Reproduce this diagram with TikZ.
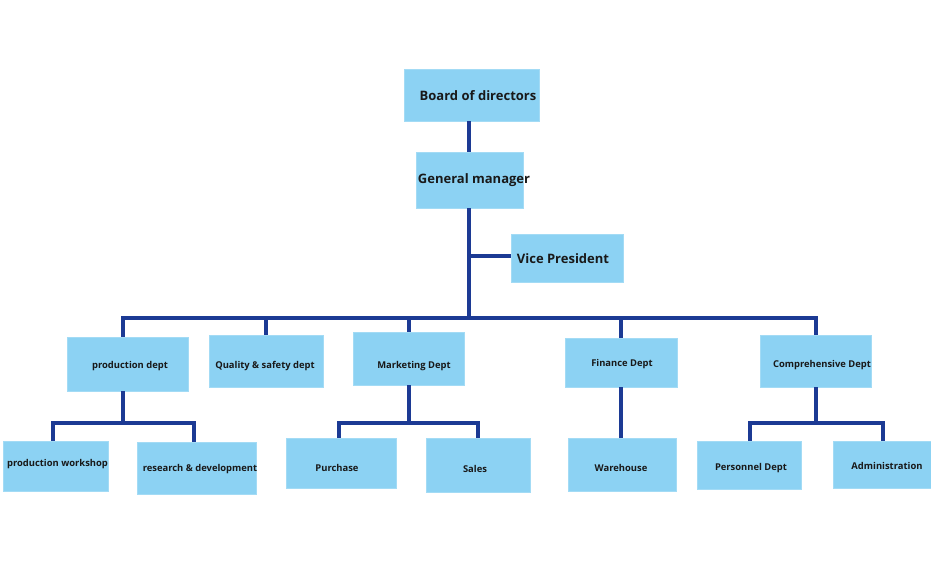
\documentclass[tikz,border=0pt]{standalone}
\usepackage{fontspec}
\setmainfont{Open Sans}
\definecolor{boxfill}{RGB}{140,210,243}
\definecolor{linec}{RGB}{28,58,148}
\begin{document}
\begin{tikzpicture}[x=1pt,y=-1pt,
  box/.style={fill=boxfill,draw=boxfill!80!white,line width=0.6pt,inner sep=0pt},
  big/.style={font=\fontsize{13}{15}\selectfont\bfseries,text=black!90},
  small/.style={font=\fontsize{9.4}{11}\selectfont\bfseries,text=black!90},
  conn/.style={draw=linec,line width=3.2pt}]
\useasboundingbox (0,0) rectangle (931,567);
% boxes
\node[box,minimum width=135pt,minimum height=52pt] (bod) at (471.5,95) {};
\node[box,minimum width=107pt,minimum height=56pt] (gm) at (469.5,180) {};
\node[box,minimum width=112pt,minimum height=48pt] (vp) at (567,258) {};
\node[box,minimum width=121pt,minimum height=54pt] (prod) at (127.5,364) {};
\node[box,minimum width=114pt,minimum height=52pt] (qual) at (266,361) {};
\node[box,minimum width=111pt,minimum height=53pt] (mkt) at (408.5,358.5) {};
\node[box,minimum width=112pt,minimum height=49pt] (fin) at (621,362.5) {};
\node[box,minimum width=111pt,minimum height=52pt] (comp) at (815.5,361) {};
\node[box,minimum width=105pt,minimum height=50pt] (pw) at (55.5,466) {};
\node[box,minimum width=119pt,minimum height=52pt] (rd) at (196.5,468) {};
\node[box,minimum width=110pt,minimum height=50pt] (pur) at (341,463) {};
\node[box,minimum width=104pt,minimum height=54pt] (sal) at (478,465) {};
\node[box,minimum width=108pt,minimum height=53pt] (wh) at (622,464.5) {};
\node[box,minimum width=104pt,minimum height=48pt] (per) at (749,465) {};
\node[box,minimum width=98pt,minimum height=47pt] (adm) at (882,464.5) {};
% labels
\node[big] (tbod) at (478,96) {Board of directors};
\node[big] (tgm) at (474,180) {General manager};
\node[big] (tvp) at (563,259) {Vice President};
\node[small] (tprod) at (130,366) {production dept};
\node[small] (tqual) at (265,366) {Quality \& safety dept};
\node[small] (tmkt) at (414,366) {Marketing Dept};
\node[small] (tfin) at (622,364) {Finance Dept};
\node[small] (tcomp) at (822,365) {Comprehensive Dept};
\node[small] (tpw) at (57.5,464) {production workshop};
\node[small] (trd) at (200,469) {research \& development};
\node[small] (tpur) at (337,468) {Purchase};
\node[small] (tsal) at (475,469) {Sales};
\node[small] (twh) at (621,468) {Warehouse};
\node[small] (tper) at (751,468) {Personnel Dept};
\node[small] (tadm) at (887,466) {Administration};
% junctions
\coordinate (bus) at (469,318);
\coordinate (vpj) at (469,256);
\coordinate (pj) at (123,423);
\coordinate (mj) at (409,423);
\coordinate (cj) at (816,423);
% connectors
\draw[conn] (bus |- bod.south) -- (bus |- gm.north);
\draw[conn] (bus |- gm.south) -- (bus);
\draw[conn] (vpj) -- (vpj -| vp.west);
\draw[conn,line cap=rect] (123,318) -- (816,318);
\draw[conn] (123,318) -- (123,318 |- prod.north);
\draw[conn] (266,318) -- (266,318 |- qual.north);
\draw[conn] (409,318) -- (409,318 |- mkt.north);
\draw[conn] (621,318) -- (621,318 |- fin.north);
\draw[conn] (816,318) -- (816,318 |- comp.north);
% production subtree
\draw[conn] (pj |- prod.south) -- (pj);
\draw[conn] (53,0 |- pw.north) -- (53,423) -- (194,423) -- (194,0 |- rd.north);
% marketing subtree
\draw[conn] (mj |- mkt.south) -- (mj);
\draw[conn] (339,0 |- pur.north) -- (339,423) -- (478,423) -- (478,0 |- sal.north);
% finance
\draw[conn] (621,0 |- fin.south) -- (621,0 |- wh.north);
% comprehensive
\draw[conn] (cj |- comp.south) -- (cj);
\draw[conn] (750,0 |- per.north) -- (750,423) -- (883,423) -- (883,0 |- adm.north);
\end{tikzpicture}
\end{document}
